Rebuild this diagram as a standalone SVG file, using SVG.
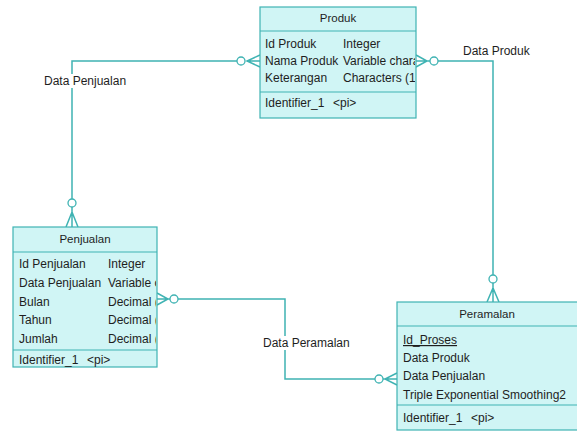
<svg xmlns="http://www.w3.org/2000/svg" width="577" height="434" viewBox="0 0 577 434">
<defs>
<style>
.box{fill:#d0f5f5;stroke:#3fb3b3;stroke-width:1.2}
.sep{stroke:#3fb3b3;stroke-width:1.2}
.ln{fill:none;stroke:#3fb3b3;stroke-width:1.5}
.ci{fill:#ffffff;stroke:#3fb3b3;stroke-width:1.3}
text{font-family:"Liberation Sans",Arial,sans-serif;font-size:12px;fill:#1e1e1e}
.h{font-size:11.5px;text-anchor:middle}
.lbl{font-size:12px}
</style>
<clipPath id="cpProduk"><rect x="260" y="7" width="155" height="111"/></clipPath>
<clipPath id="cpPenj"><rect x="13" y="227" width="143" height="140"/></clipPath>
</defs>
<rect width="577" height="434" fill="#ffffff"/>

<g id="connectors">
<!-- Produk - Penjualan -->
<polyline class="ln" points="237,61 72,61 72,199"/>
<path class="ln" d="M260,55 L247,61 L260,67 M260,61 L247,61 M66,227 L72,212 L78,227 M72,227 L72,207"/>
<circle class="ci" cx="241" cy="61" r="4"/>
<circle class="ci" cx="72" cy="203" r="4"/>
<rect x="42" y="74" width="84" height="14" fill="#ffffff"/>
<text class="lbl" x="44" y="85">Data Penjualan</text>
<!-- Produk - Peramalan -->
<polyline class="ln" points="438,61 493,61 493,275"/>
<path class="ln" d="M416,55 L427,61 L416,67 M416,61 L430,61 M487,302 L493,288 L499,302 M493,302 L493,283"/>
<circle class="ci" cx="434" cy="61" r="4"/>
<circle class="ci" cx="493" cy="279" r="4"/>
<text class="lbl" x="463" y="55">Data Produk</text>
<!-- Penjualan - Peramalan -->
<polyline class="ln" points="178,299 285,299 285,379 375,379"/>
<path class="ln" d="M157,293 L168,299 L157,305 M157,299 L170,299 M397,373 L385,379 L397,385 M397,379 L383,379"/>
<circle class="ci" cx="174" cy="299" r="4"/>
<circle class="ci" cx="379" cy="379" r="4"/>
<rect x="260" y="336" width="90" height="14" fill="#ffffff"/>
<text class="lbl" x="263" y="347">Data Peramalan</text>
</g>

<g id="produk">
<rect class="box" x="260" y="7" width="156" height="111"/>
<line class="sep" x1="260" y1="31" x2="416" y2="31"/>
<line class="sep" x1="260" y1="92" x2="416" y2="92"/>
<text class="h" x="338" y="22">Produk</text>
<g clip-path="url(#cpProduk)">
<text x="265" y="48">Id Produk</text>
<text x="343" y="48">Integer</text>
<text x="265" y="65">Nama Produk</text>
<text x="343" y="65">Variable characters (100)</text>
<text x="265" y="82">Keterangan</text>
<text x="343" y="82">Characters (100)</text>
</g>
<text x="265" y="107">Identifier_1</text>
<text x="333" y="107">&lt;pi&gt;</text>
</g>

<g id="penjualan">
<rect class="box" x="13" y="227" width="144" height="140"/>
<line class="sep" x1="13" y1="252" x2="157" y2="252"/>
<line class="sep" x1="13" y1="350" x2="157" y2="350"/>
<text class="h" x="85" y="243">Penjualan</text>
<g clip-path="url(#cpPenj)">
<text x="19" y="268">Id Penjualan</text>
<text x="108" y="268">Integer</text>
<text x="19" y="287">Data Penjualan</text>
<text x="108" y="287">Variable characters (100)</text>
<text x="19" y="306">Bulan</text>
<text x="108" y="306">Decimal (10)</text>
<text x="19" y="324">Tahun</text>
<text x="108" y="324">Decimal (10)</text>
<text x="19" y="343">Jumlah</text>
<text x="108" y="343">Decimal (10)</text>
</g>
<text x="19" y="364">Identifier_1</text>
<text x="87" y="364">&lt;pi&gt;</text>
</g>

<g id="peramalan">
<rect class="box" x="397" y="302" width="190" height="128"/>
<line class="sep" x1="397" y1="326" x2="587" y2="326"/>
<line class="sep" x1="397" y1="405" x2="587" y2="405"/>
<text class="h" x="487" y="318">Peramalan</text>
<text x="403" y="344" text-decoration="underline">Id_Proses</text>
<text x="403" y="362">Data Produk</text>
<text x="403" y="380">Data Penjualan</text>
<text x="403" y="399">Triple Exponential Smoothing2</text>
<text x="403" y="422">Identifier_1</text>
<text x="471" y="422">&lt;pi&gt;</text>
</g>
</svg>
